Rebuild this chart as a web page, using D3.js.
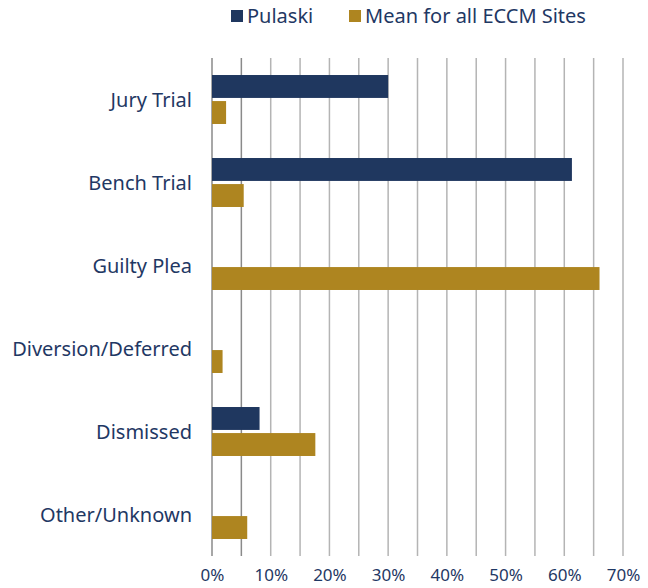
<!DOCTYPE html>
<html>
<head>
<meta charset="utf-8">
<script src="https://cdn.jsdelivr.net/npm/d3@7"></script>
<style>
  body { margin: 0; background: #fff; }
  text { font-family: "Noto Sans", "DejaVu Sans", sans-serif; fill: #1f3864; }
</style>
</head>
<body>
<div id="chart"></div>
<script>
// chart data
const categories = ['Jury Trial', 'Bench Trial', 'Guilty Plea', 'Diversion/Deferred', 'Dismissed', 'Other/Unknown'];
const seriesNames = ['Pulaski', 'Mean for all ECCM Sites'];
const pulaski = [0.30, 0.613, 0, 0, 0.081, 0];
const eccmMean = [0.024, 0.054, 0.66, 0.018, 0.176, 0.06];
const xTicks = [0, 0.1, 0.2, 0.3, 0.4, 0.5, 0.6, 0.7];
const gridTicks = [0, 0.05, 0.1, 0.15, 0.2, 0.25, 0.3, 0.35, 0.4, 0.45, 0.5, 0.55, 0.6, 0.65, 0.7];

const colors = ['#1f375f', '#ae8520'];

const width = 648;
const height = 588;
const margin = {top: 58, right: 25, bottom: 32, left: 212};
const chartWidth = width - margin.left - margin.right;
const chartHeight = height - margin.top - margin.bottom;

const rows = categories.map((c, i) => ({category: c, values: [pulaski[i], eccmMean[i]]}));

const svg = d3.select('#chart')
  .append('svg')
    .attr('width', width)
    .attr('height', height);

const xScale = d3.scaleLinear()
    .domain([0, 0.7])
    .range([0, 411]);

const yScale = d3.scaleBand()
    .domain(categories)
    .range([0, chartHeight])
    .paddingInner(0.41)
    .paddingOuter(0.205);

const ySub = d3.scaleBand()
    .domain(seriesNames)
    .range([0, yScale.bandwidth()])
    .paddingInner(0.12);

const container = svg.append('g')
    .attr('transform', `translate(${margin.left},${margin.top})`);

// vertical gridlines every 5%
container.append('g')
    .classed('grid', true)
  .selectAll('line')
  .data(gridTicks)
  .enter()
  .append('line')
    .attr('x1', d => xScale(d))
    .attr('x2', d => xScale(d))
    .attr('y1', 0)
    .attr('y2', chartHeight)
    .attr('stroke', (d, i) => i < 2 ? '#8a8a8a' : '#b4b4b4')
    .attr('stroke-width', 1.5);

// x axis labels
const xAxis = d3.axisBottom(xScale)
    .tickValues(xTicks)
    .tickFormat(d3.format('.0%'))
    .tickSize(0)
    .tickPadding(13);

container.append('g')
    .attr('transform', `translate(0,${chartHeight})`)
    .call(xAxis)
    .call(g => g.select('.domain').remove())
    .call(g => g.selectAll('text')
        .attr('font-size', 17)
        .attr('font-family', null)
        .attr('fill', '#1f3864'));

// category labels
container.append('g')
  .selectAll('text')
  .data(categories)
  .enter()
  .append('text')
    .attr('x', -20)
    .attr('y', d => yScale(d) + yScale.bandwidth() / 2)
    .attr('dy', '0.35em')
    .attr('text-anchor', 'end')
    .attr('font-size', 20)
    .text(d => d);

// bars
const groups = container.append('g')
  .selectAll('g')
  .data(rows)
  .enter()
  .append('g')
    .attr('transform', d => `translate(0,${yScale(d.category)})`);

groups.selectAll('rect')
  .data(d => d.values.map((v, i) => ({series: seriesNames[i], value: v, i})))
  .enter()
  .append('rect')
    .attr('x', 0)
    .attr('y', d => ySub(d.series))
    .attr('width', d => xScale(d.value))
    .attr('height', ySub.bandwidth())
    .attr('fill', d => colors[d.i]);

// legend
const legendItems = [
  {name: seriesNames[0], x: 231},
  {name: seriesNames[1], x: 349}
];
const legend = svg.append('g').classed('legend', true);
legendItems.forEach((item, i) => {
  legend.append('rect')
      .attr('x', item.x)
      .attr('y', 10)
      .attr('width', 12)
      .attr('height', 12)
      .attr('fill', colors[i]);
  legend.append('text')
      .attr('x', item.x + 16)
      .attr('y', 16)
      .attr('dy', '0.35em')
      .attr('font-size', 20)
      .text(item.name);
});
</script>
</body>
</html>
